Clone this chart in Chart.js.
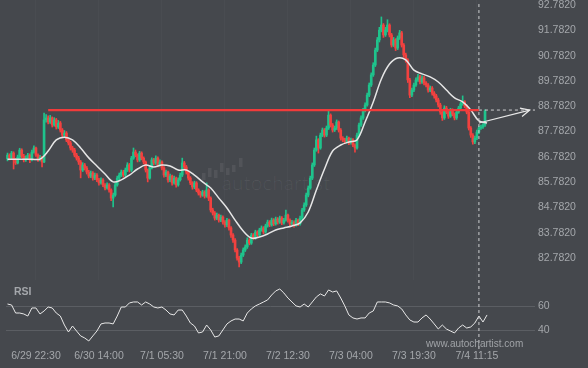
<!DOCTYPE html>
<html>
<head>
<meta charset="utf-8">
<script src="https://cdn.jsdelivr.net/npm/chart.js@4.4.1/dist/chart.umd.min.js"></script>
<style>
 html, body { margin:0; padding:0; background:#45484d; }
 #wrap { position:relative; width:588px; height:368px; overflow:hidden; font-family: Arial, "Liberation Sans", sans-serif; }
 canvas { position:absolute; left:0; z-index:2; }
 #main { top:0; }
 #rsi { top:280px; }
 .txt { position:absolute; z-index:3; color:#a4a7ab; white-space:nowrap; }
 #wm { position:absolute; z-index:1; left:222px; top:172px; font-family: Lato, "Open Sans", sans-serif; font-weight:300; font-size:20px; line-height:20px; letter-spacing:0.5px; color:rgba(255,255,255,0.07); }
</style>
</head>
<body>
<div id="wrap">
  <div id="wm">autochartist</div>
  <canvas id="main" width="588" height="280"></canvas>
  <canvas id="rsi" width="588" height="88"></canvas>
  <div class="txt" style="left:14px;top:285px;font-size:10.5px;font-weight:bold;line-height:12px;">RSI</div>
  <div class="txt" style="left:426px;top:338px;font-size:10px;line-height:12px;color:#a0a3a7;">www.autochartist.com</div>
</div>
<script>
 'use strict';

 // ---- data (30 min bars) ----
 var priceTicks = [82.782, 83.782, 84.782, 85.782, 86.782, 87.782, 88.782, 89.782, 90.782, 91.782, 92.782];
 var xTickIdx = [14, 45, 76, 107, 138, 169, 200, 231];
 var xTickLabels = ['6/29 22:30', '6/30 14:00', '7/1 05:30', '7/1 21:00', '7/2 12:30', '7/3 04:00', '7/3 19:30', '7/4 11:15'];

 var firstOpen = 86.70;
 var closes = [
  86.85, 86.73, 86.93, 86.66, 86.54, 86.77, 87.05, 86.81, 86.66, 86.73,
  86.85, 86.66, 86.97, 87.13, 86.85, 86.66, 86.77, 86.58, 88.24, 88.32,
  88.16, 88.32, 88.04, 88.24, 87.96, 88.12, 87.84, 87.64, 87.72, 87.45,
  87.33, 87.13, 87.05, 86.85, 86.73, 86.58, 86.26, 86.46, 86.34, 86.18,
  86.02, 86.14, 85.94, 86.06, 85.87, 85.75, 85.87, 85.67, 85.55, 85.67,
  85.47, 85.15, 85.27, 85.67, 85.94, 86.06, 86.18, 86.06, 86.26, 86.46,
  86.26, 86.73, 86.97, 86.85, 86.66, 86.93, 86.73, 86.58, 86.26, 85.94,
  86.34, 86.66, 86.54, 86.73, 86.46, 86.58, 86.34, 86.06, 86.18, 85.87,
  86.02, 85.75, 85.94, 85.67, 85.87, 86.06, 86.54, 86.38, 86.18, 85.94,
  85.75, 85.59, 85.75, 85.47, 85.35, 85.27, 85.39, 85.23, 85.47, 85.15,
  84.68, 84.56, 84.36, 84.48, 84.28, 84.40, 84.20, 84.09, 84.28, 83.97,
  83.69, 83.49, 83.10, 82.78, 82.62, 82.90, 83.10, 83.22, 83.49, 83.37,
  83.69, 83.57, 83.81, 83.69, 83.89, 83.97, 83.81, 84.05, 84.20, 84.09,
  84.28, 84.13, 84.32, 84.20, 84.36, 84.17, 84.28, 84.48, 84.28, 84.13,
  84.20, 84.09, 84.28, 84.13, 84.36, 84.68, 84.88, 85.27, 85.55, 85.94,
  86.46, 87.05, 87.45, 87.13, 87.64, 87.84, 87.64, 87.92, 88.43, 88.04,
  87.84, 87.92, 88.16, 87.84, 87.52, 87.45, 87.37, 87.52, 87.33, 87.45,
  87.25, 87.13, 87.64, 88.04, 88.32, 88.63, 88.83, 89.22, 89.62, 90.02,
  90.41, 91.00, 91.40, 91.79, 91.99, 91.60, 91.79, 91.99, 91.60, 91.20,
  91.40, 91.08, 91.48, 91.68, 91.20, 90.81, 90.61, 89.82, 89.22, 89.42,
  89.62, 89.82, 89.94, 89.74, 89.90, 89.70, 89.62, 89.42, 89.50, 89.30,
  89.19, 89.03, 88.83, 88.55, 88.32, 88.71, 88.55, 88.39, 88.63, 88.47,
  88.32, 88.55, 88.71, 88.87, 88.95, 88.79, 88.55, 87.92, 87.64, 87.37,
  87.52, 87.76, 87.92, 87.96, 88.04, 88.59
 ];
 var highs = [
  86.93, 86.90, 87.00, 86.98, 86.72, 86.85, 87.12, 87.10, 86.88, 86.82,
  86.92, 86.90, 87.05, 87.22, 87.17, 86.90, 86.84, 86.80, 88.51, 88.45,
  88.40, 88.42, 88.36, 88.33, 88.30, 88.22, 88.18, 87.90, 87.82, 87.78,
  87.52, 87.40, 87.20, 87.12, 86.92, 86.80, 86.64, 86.55, 86.52, 86.40,
  86.25, 86.22, 86.20, 86.14, 86.12, 85.93, 85.95, 85.92, 85.72, 85.75,
  85.72, 85.52, 85.35, 85.75, 86.02, 86.14, 86.26, 86.25, 86.34, 86.55,
  86.52, 86.80, 87.13, 87.05, 86.90, 87.00, 86.98, 86.78, 86.62, 86.30,
  86.42, 86.74, 86.72, 86.82, 86.78, 86.66, 86.62, 86.40, 86.26, 86.22,
  86.10, 86.06, 86.02, 85.98, 85.95, 86.14, 86.73, 86.60, 86.44, 86.22,
  86.00, 85.80, 85.82, 85.80, 85.52, 85.42, 85.46, 85.44, 85.75, 85.52,
  85.20, 84.75, 84.62, 84.56, 84.52, 84.48, 84.45, 84.26, 84.35, 84.32,
  84.02, 83.75, 83.55, 83.15, 82.85, 82.98, 83.18, 83.30, 83.58, 83.55,
  83.76, 83.75, 83.88, 83.86, 83.96, 84.05, 84.02, 84.12, 84.28, 84.26,
  84.36, 84.34, 84.40, 84.38, 84.44, 84.42, 84.35, 84.68, 84.52, 84.33,
  84.27, 84.25, 84.35, 84.32, 84.44, 84.75, 84.96, 85.35, 85.63, 86.02,
  86.54, 87.13, 87.60, 87.50, 87.72, 87.92, 87.90, 88.00, 88.59, 88.48,
  88.10, 88.00, 88.24, 88.20, 87.90, 87.58, 87.52, 87.60, 87.56, 87.52,
  87.50, 87.30, 87.72, 88.12, 88.40, 88.70, 88.92, 89.30, 89.70, 90.10,
  90.50, 91.08, 91.50, 91.90, 92.31, 92.05, 91.90, 92.20, 92.04, 91.66,
  91.50, 91.45, 91.56, 91.78, 91.74, 91.26, 90.88, 90.66, 89.88, 89.50,
  89.70, 89.90, 90.04, 90.00, 89.98, 89.96, 89.76, 89.68, 89.58, 89.56,
  89.36, 89.25, 89.10, 88.90, 88.60, 88.80, 88.78, 88.62, 88.70, 88.68,
  88.52, 88.62, 88.78, 88.94, 89.19, 89.00, 88.84, 88.60, 87.98, 87.70,
  87.60, 87.84, 88.00, 88.04, 88.10, 88.64
 ];
 var lows = [
  86.62, 86.66, 86.68, 86.30, 86.48, 86.50, 86.72, 86.75, 86.58, 86.60,
  86.70, 86.55, 86.62, 86.93, 86.80, 86.60, 86.62, 86.38, 86.55, 88.15,
  88.08, 88.10, 87.96, 87.99, 87.88, 87.90, 87.76, 87.55, 87.58, 87.38,
  87.25, 87.05, 86.96, 86.78, 86.65, 86.48, 85.95, 86.20, 86.26, 86.10,
  85.95, 85.96, 85.86, 85.88, 85.80, 85.66, 85.70, 85.60, 85.47, 85.50,
  85.38, 85.05, 84.80, 85.22, 85.62, 85.88, 86.00, 85.98, 86.00, 86.20,
  86.18, 86.20, 86.68, 86.78, 86.58, 86.60, 86.66, 86.50, 86.18, 85.79,
  85.90, 86.30, 86.46, 86.48, 86.38, 86.40, 86.26, 85.98, 86.00, 85.78,
  85.80, 85.66, 85.70, 85.58, 85.62, 85.82, 86.00, 86.30, 86.10, 85.86,
  85.68, 85.50, 85.52, 85.40, 85.27, 85.18, 85.22, 85.15, 85.18, 85.05,
  84.60, 84.48, 84.28, 84.30, 84.20, 84.22, 84.12, 84.00, 84.02, 83.88,
  83.60, 83.40, 83.02, 82.70, 82.43, 82.56, 82.84, 83.04, 83.16, 83.30,
  83.32, 83.50, 83.52, 83.62, 83.64, 83.84, 83.74, 83.76, 84.00, 84.02,
  84.04, 84.06, 84.08, 84.12, 84.15, 84.10, 84.12, 84.24, 84.20, 84.05,
  84.08, 84.00, 84.04, 84.06, 84.08, 84.30, 84.62, 84.82, 85.20, 85.50,
  85.88, 86.40, 87.00, 86.93, 87.08, 87.58, 87.56, 87.58, 87.86, 87.96,
  87.76, 87.78, 87.86, 87.76, 87.44, 87.38, 87.30, 87.32, 87.26, 87.28,
  87.18, 86.97, 87.08, 87.58, 87.98, 88.26, 88.56, 88.78, 89.16, 89.56,
  89.96, 90.35, 90.94, 91.32, 91.72, 91.50, 91.54, 91.72, 91.52, 91.12,
  91.14, 90.98, 91.02, 91.42, 91.12, 90.72, 90.52, 89.72, 89.12, 89.16,
  89.36, 89.56, 89.76, 89.66, 89.68, 89.62, 89.54, 89.34, 89.36, 89.22,
  89.10, 88.95, 88.75, 88.46, 88.22, 88.26, 88.48, 88.30, 88.34, 88.40,
  88.24, 88.26, 88.50, 88.66, 88.82, 88.72, 88.48, 87.84, 87.55, 87.28,
  87.30, 87.46, 87.70, 87.86, 87.90, 87.98
 ];

 // moving average, one reading every 4 bars
 var maStep = 4;
 var maValues = [
  86.69, 86.69, 86.69, 86.69, 86.69, 87.01, 87.45, 87.56, 87.45, 87.13,
  86.74, 86.42, 86.10, 85.79, 85.87, 86.06, 86.30, 86.46, 86.38, 86.46,
  86.42, 86.26, 86.26, 86.06, 85.79, 85.55, 85.15, 84.76, 84.28, 83.85,
  83.57, 83.61, 83.73, 83.89, 83.97, 84.05, 84.17, 84.60, 85.47, 86.30,
  87.01, 87.25, 87.37, 87.45, 88.16, 88.95, 89.86, 90.45, 90.69, 90.61,
  90.21, 90.06, 89.94, 89.74, 89.42, 89.11, 88.95, 88.63, 88.20, 88.12
 ];

 // RSI, one reading every 2 bars
 var rsiStep = 2;
 var rsiValues = [
  61.9, 61.1, 54.4, 54.4, 53.6, 51.9, 58.6, 58.6, 53.6, 56.1,
  59.4, 58.6, 54.4, 51.9, 44.4, 38.6, 43.6, 39.4, 35.3, 33.6,
  31.1, 35.3, 39.4, 45.3, 46.1, 46.1, 45.3, 51.9, 59.4, 59.4,
  62.8, 63.6, 63.6, 61.1, 63.6, 61.9, 59.4, 58.6, 59.4, 56.9,
  53.6, 52.8, 56.9, 56.9, 51.9, 46.1, 43.6, 37.8, 38.6, 44.4,
  40.3, 34.4, 35.3, 40.3, 45.3, 47.8, 49.4, 49.4, 47.8, 54.4,
  57.8, 60.3, 61.9, 63.6, 65.3, 69.4, 72.8, 74.4, 71.1, 66.9,
  63.6, 60.3, 59.4, 61.9, 59.4, 63.6, 67.8, 70.3, 68.6, 73.6,
  71.9, 72.8, 66.9, 60.3, 52.8, 50.3, 49.4, 50.3, 50.3, 54.4,
  56.1, 63.6, 63.6, 63.6, 62.8, 61.1, 60.3, 57.8, 52.8, 48.6,
  46.9, 46.9, 50.3, 52.8, 49.4, 45.3, 41.1, 44.4, 41.1, 39.4,
  37.8, 41.9, 44.4, 41.9, 42.8, 46.1, 51.9, 46.9, 52.8
 ];
 var rsiTicks = [40, 60];

 // resistance level and projection
 var resistanceLevel = 88.63;
 var resistanceFrom = 20;
 var nowIdx = 232;
 var forecastIdx = [232, 257];
 var forecastVals = [88.12, 88.63];

 // ---- look ----
 var UP = '#1fc38c', DOWN = '#f2413f';
 var TEXT = '#a4a7ab';
 var FONT = { family: 'Arial, "Liberation Sans", sans-serif', size: 10.5 };
 var X_MIN = -0.74, X_MAX = 259.6;
 var PRICE_MIN = 81.913, PRICE_MAX = 92.98;
 var RSI_MIN = 23.6, RSI_MAX = 81.9;

 function fitRightAxis(scale) {
   scale.width = 41;
   scale.paddingTop = 0;
   scale.paddingBottom = 0;
 }

 function buildCandles() {
   var wicks = [], bodies = [], colors = [];
   var prev = firstOpen;
   for (var i = 0; i < closes.length; i++) {
     var o = prev, c = closes[i];
     wicks.push({ x: i, y: [lows[i], highs[i]] });
     bodies.push({ x: i, y: [o, c] });
     colors.push(c >= o ? UP : DOWN);
     prev = c;
   }
   return { wicks: wicks, bodies: bodies, colors: colors };
 }

 var arrowHead = {
   id: 'arrowHead',
   afterDatasetsDraw: function(chart) {
     var meta = chart.getDatasetMeta(chart.data.datasets.length - 1);
     var pts = meta.data;
     var a = pts[pts.length - 2], b = pts[pts.length - 1];
     var ang = Math.atan2(b.y - a.y, b.x - a.x);
     var ctx = chart.ctx;
     ctx.save();
     ctx.strokeStyle = '#e8e8e8';
     ctx.lineWidth = 1.2;
     ctx.beginPath();
     ctx.moveTo(b.x - 10 * Math.cos(ang - 0.45), b.y - 10 * Math.sin(ang - 0.45));
     ctx.lineTo(b.x, b.y);
     ctx.lineTo(b.x - 10 * Math.cos(ang + 0.45), b.y - 10 * Math.sin(ang + 0.45));
     ctx.stroke();
     ctx.restore();
   }
 };

 // faint logo bars next to the watermark text
 var logoBars = {
   id: 'logoBars',
   beforeDatasetsDraw: function(chart) {
     var ctx = chart.ctx;
     var bars = [[202, 173, 7], [208, 168, 9], [214, 170, 8], [220, 163, 9], [226, 168, 7], [232, 165, 7], [239, 158, 9]];
     ctx.save();
     ctx.fillStyle = 'rgba(255,255,255,0.07)';
     bars.forEach(function(b) { ctx.fillRect(b[0], b[1], 3.5, b[2]); });
     ctx.restore();
   }
 };

 function drawMain() {
   var cd = buildCandles();
   var maData = maValues.map(function(v, k) { return { x: k * maStep, y: v }; });

   new Chart(document.getElementById('main'), {
     type: 'bar',
     data: {
       datasets: [
         { type: 'bar', data: cd.wicks, backgroundColor: cd.colors, barThickness: 1, grouped: false, order: 10 },
         { type: 'bar', data: cd.bodies, backgroundColor: cd.colors, barThickness: 2, minBarLength: 1, grouped: false, order: 9 },
         { type: 'line', data: maData, borderColor: '#e6e6e6', borderWidth: 1.5, pointRadius: 0, tension: 0.35, order: 5 },
         { type: 'line', data: [{ x: resistanceFrom, y: resistanceLevel }, { x: nowIdx, y: resistanceLevel }],
           borderColor: '#f23b3b', borderWidth: 2.2, pointRadius: 0, order: 4 },
         { type: 'line', data: [{ x: nowIdx, y: 92.82 }, { x: nowIdx, y: PRICE_MIN }],
           borderColor: '#cfd0d2', borderWidth: 1, borderDash: [3, 3], pointRadius: 0, order: 3 },
         { type: 'line', data: [{ x: nowIdx, y: resistanceLevel }, { x: X_MAX, y: resistanceLevel }],
           borderColor: '#cfd0d2', borderWidth: 1, borderDash: [3, 3], pointRadius: 0, order: 2 },
         { type: 'line', data: forecastIdx.map(function(x, k) { return { x: x, y: forecastVals[k] }; }),
           borderColor: '#e8e8e8', borderWidth: 1.2, pointRadius: 0, order: 1 }
       ]
     },
     options: {
       responsive: false, animation: false, devicePixelRatio: 1,
       layout: { padding: { left: 6, right: 12, top: 0, bottom: 0 } },
       plugins: { legend: { display: false }, tooltip: { enabled: false } },
       scales: {
         x: {
           type: 'linear', min: X_MIN, max: X_MAX, offset: false,
           afterBuildTicks: function(s) { s.ticks = xTickIdx.map(function(v) { return { value: v }; }); },
           afterFit: function(s) { s.height = 0; },
           ticks: { display: false },
           grid: { color: 'rgba(255,255,255,0.025)', drawTicks: false, offset: false },
           border: { display: false }
         },
         y: {
           position: 'right', min: PRICE_MIN, max: PRICE_MAX,
           afterBuildTicks: function(s) { s.ticks = priceTicks.map(function(v) { return { value: v }; }); },
           afterFit: fitRightAxis,
           ticks: { color: TEXT, font: FONT, padding: 3, callback: function(v) { return Number(v).toFixed(4); } },
           grid: { display: false, drawTicks: false },
           border: { display: false }
         }
       }
     },
     plugins: [logoBars, arrowHead]
   });
 }

 function drawRsi() {
   var rsiData = rsiValues.map(function(v, k) { return { x: k * rsiStep, y: v }; });

   new Chart(document.getElementById('rsi'), {
     type: 'line',
     data: {
       datasets: [
         { data: rsiData, borderColor: '#e8e8e8', borderWidth: 1, pointRadius: 0, tension: 0, order: 2 },
         { data: [{ x: nowIdx, y: RSI_MAX }, { x: nowIdx, y: RSI_MIN }],
           borderColor: '#cfd0d2', borderWidth: 1, borderDash: [3, 3], pointRadius: 0, order: 1 }
       ]
     },
     options: {
       responsive: false, animation: false, devicePixelRatio: 1,
       layout: { padding: { left: 6, right: 12, top: 0, bottom: 0 } },
       plugins: { legend: { display: false }, tooltip: { enabled: false } },
       scales: {
         x: {
           type: 'linear', min: X_MIN, max: X_MAX, offset: false,
           afterBuildTicks: function(s) { s.ticks = xTickIdx.map(function(v) { return { value: v }; }); },
           afterFit: function(s) { s.height = 18; s.paddingLeft = 0; s.paddingRight = 0; },
           ticks: {
             color: TEXT, font: FONT, padding: 0, maxRotation: 0, autoSkip: false,
             callback: function(v) { var k = xTickIdx.indexOf(v); return k < 0 ? '' : xTickLabels[k]; }
           },
           grid: { display: false, drawTicks: false },
           border: { display: false }
         },
         y: {
           position: 'right', min: RSI_MIN, max: RSI_MAX,
           afterBuildTicks: function(s) { s.ticks = rsiTicks.map(function(v) { return { value: v }; }); },
           afterFit: fitRightAxis,
           ticks: { color: TEXT, font: FONT, padding: 3 },
           grid: { color: '#5b5e63', drawTicks: false },
           border: { display: false }
         }
       }
     }
   });
 }

 drawMain();
 drawRsi();
</script>
</body>
</html>
